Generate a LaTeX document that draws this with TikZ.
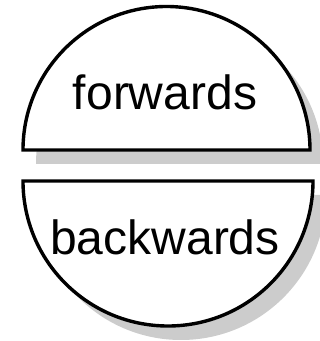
\documentclass[tikz,border=0pt]{standalone}
\usepackage{fontspec}
\setmainfont{Liberation Sans}
\begin{document}
\begin{tikzpicture}[x=1pt,y=1pt,
  halfdisc/.style={draw=black,line width=3.4pt,fill=white,line join=miter},
  shadowfill/.style={fill=black!20,draw=none},
  lbl/.style={anchor=base,inner sep=0pt,font=\fontsize{48}{50}\selectfont}]
\useasboundingbox (0,0) rectangle (320,341);
% shadows
\fill[shadowfill] (36,177) arc[start angle=180,end angle=0,radius=143.5] -- cycle;
\fill[shadowfill] (36,146) arc[start angle=180,end angle=360,radius=145] -- cycle;
% shapes
\draw[halfdisc] (23,191) arc[start angle=180,end angle=0,radius=143.5] -- cycle;
\draw[halfdisc] (23,160) arc[start angle=180,end angle=360,radius=145] -- cycle;
% labels
\node[lbl] (fw) at (165,231) {forwards};
\node[lbl] (bw) at (165,86) {backwards};
\end{tikzpicture}
\end{document}
